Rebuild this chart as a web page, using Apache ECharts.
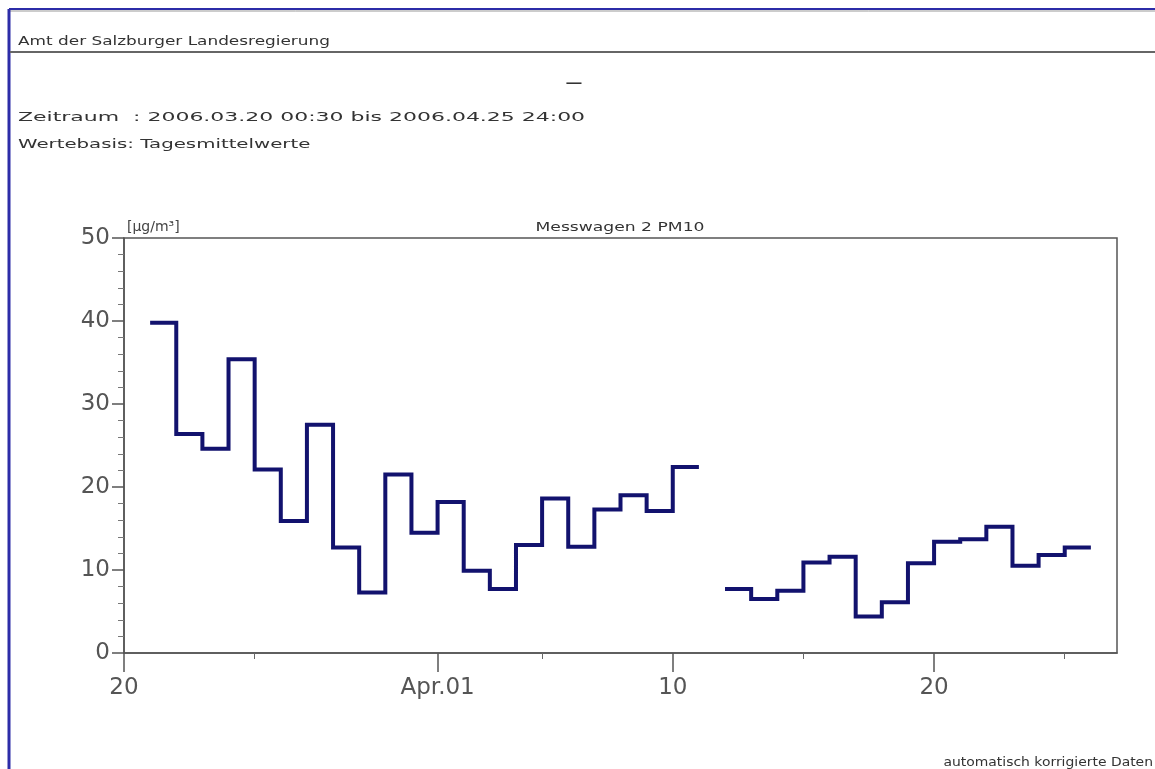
<!DOCTYPE html>
<html>
<head>
<meta charset="utf-8">
<title>Messwagen 2 PM10</title>
<script src="https://cdn.jsdelivr.net/npm/echarts@6/dist/echarts.min.js"></script>
<style>
html, body { margin: 0; padding: 0; background: #fff; }
#chart { width: 1155px; height: 769px; }
</style>
</head>
<body>
<div id="chart"></div>
<script>
// daily means (Tagesmittelwerte), one value per day, µg/m³ ; null = no data
const dates = [
  '2006-03-21', '2006-03-22', '2006-03-23', '2006-03-24', '2006-03-25', '2006-03-26',
  '2006-03-27', '2006-03-28', '2006-03-29', '2006-03-30', '2006-03-31', '2006-04-01',
  '2006-04-02', '2006-04-03', '2006-04-04', '2006-04-05', '2006-04-06', '2006-04-07',
  '2006-04-08', '2006-04-09', '2006-04-10', '2006-04-11', '2006-04-12', '2006-04-13',
  '2006-04-14', '2006-04-15', '2006-04-16', '2006-04-17', '2006-04-18', '2006-04-19',
  '2006-04-20', '2006-04-21', '2006-04-22', '2006-04-23', '2006-04-24', '2006-04-25'
]
const pm10 = [
  39.8, 26.4, 24.6, 35.4, 22.1, 15.9,
  27.5, 12.7, 7.3, 21.5, 14.5, 18.2,
  9.9, 7.7, 13.0, 18.6, 12.8, 17.3,
  19.0, 17.1, 22.4, null, 7.7, 6.5,
  7.5, 10.9, 11.6, 4.4, 6.1, 10.8,
  13.4, 13.7, 15.2, 10.5, 11.8, 12.7
]

// x axis in days since 2006-03-20 00:00
const axisStart = '2006-03-20'
const axisDays = 38
const majorTickDays = [0, 12, 21, 31]
const majorTickLabels = ['20', 'Apr.01', '10', '20']
const minorTickDays = [5, 16, 26, 36]

const yTicks = { min: 0, max: 50, interval: 10 }

const DAY = 24 * 3600 * 1000
function dayOffset(d) {
  return (Date.parse(d) - Date.parse(axisStart)) / DAY
}

// each daily mean is drawn as a flat step over its day
const stepData = []
dates.forEach((d, i) => {
  const x0 = dayOffset(d)
  stepData.push([x0, pm10[i]], [x0 + 1, pm10[i]])
})

const font = 'DejaVu Sans, Verdana, sans-serif'
const axisColor = '#555'

const chart = echarts.init(document.getElementById('chart'))

const option = {
  animation: false,
  backgroundColor: '#fff',
  grid: [
    { left: 124, top: 238, right: 38, bottom: 116, show: true, borderColor: axisColor, borderWidth: 1.5, backgroundColor: 'transparent', outerBoundsMode: 'none' },
    { left: 124, top: 238, right: 38, bottom: 116, show: false, outerBoundsMode: 'none' }
  ],
  xAxis: [
    {
      type: 'value',
      gridIndex: 0,
      min: 0,
      max: axisDays,
      axisLine: { lineStyle: { color: axisColor, width: 1.5 } },
      axisTick: { customValues: majorTickDays, length: 19, lineStyle: { color: axisColor, width: 1.5 } },
      axisLabel: {
        customValues: majorTickDays,
        formatter: v => majorTickLabels[majorTickDays.indexOf(v)],
        fontFamily: font,
        fontSize: 23,
        color: '#555',
        margin: 24
      },
      splitLine: { show: false }
    },
    {
      type: 'value',
      gridIndex: 1,
      min: 0,
      max: axisDays,
      axisLine: { show: false },
      axisTick: { customValues: minorTickDays, length: 6, lineStyle: { color: '#666' } },
      axisLabel: { show: false },
      splitLine: { show: false }
    }
  ],
  yAxis: [
    {
      type: 'value',
      gridIndex: 0,
      min: yTicks.min,
      max: yTicks.max,
      interval: yTicks.interval,
      name: '[µg/m³]',
      nameLocation: 'end',
      nameGap: 4,
      nameTextStyle: { align: 'left', verticalAlign: 'bottom', fontFamily: font, fontSize: 14, color: '#444', padding: [0, 0, 0, 3] },
      axisLine: { show: true, lineStyle: { color: axisColor, width: 1.5 } },
      axisTick: { show: true, length: 12, lineStyle: { color: axisColor, width: 1.5 } },
      minorTick: { show: true, splitNumber: 5, length: 6, lineStyle: { color: '#777' } },
      axisLabel: { fontFamily: font, fontSize: 23, color: '#555', margin: 14 },
      splitLine: { show: false }
    },
    { type: 'value', gridIndex: 1, min: yTicks.min, max: yTicks.max, show: false }
  ],
  graphic: [
    // page frame
    { type: 'line', shape: { x1: 9, y1: 9, x2: 1155, y2: 9 }, style: { stroke: '#2c2ca8', lineWidth: 2 } },
    { type: 'line', shape: { x1: 9, y1: 11, x2: 1155, y2: 11 }, style: { stroke: '#999', lineWidth: 1 } },
    { type: 'line', shape: { x1: 9, y1: 9, x2: 9, y2: 769 }, style: { stroke: '#2c2ca8', lineWidth: 3 } },
    { type: 'line', shape: { x1: 10, y1: 52, x2: 1155, y2: 52 }, style: { stroke: '#666', lineWidth: 2 } },
    // header texts (plotter font is wide, so stretch horizontally)
    { type: 'text', x: 18, y: 42, scaleX: 1.3, style: { text: 'Amt der Salzburger Landesregierung', fontFamily: font, fontSize: 13, fill: '#333', textVerticalAlign: 'middle' } },
    { type: 'text', x: 574, y: 84, scaleX: 1.3, style: { text: '—', fontFamily: font, fontSize: 13, fontWeight: 'bold', fill: '#333', textAlign: 'center', textVerticalAlign: 'middle' } },
    { type: 'text', x: 18, y: 118, scaleX: 1.69, style: { text: 'Zeitraum  : 2006.03.20 00:30 bis 2006.04.25 24:00', fontFamily: font, fontSize: 13, fill: '#333', textVerticalAlign: 'middle' } },
    { type: 'text', x: 18, y: 145, scaleX: 1.52, style: { text: 'Wertebasis: Tagesmittelwerte', fontFamily: font, fontSize: 13, fill: '#333', textVerticalAlign: 'middle' } },
    { type: 'text', x: 620, y: 228, scaleX: 1.43, style: { text: 'Messwagen 2 PM10', fontFamily: font, fontSize: 12, fill: '#333', textAlign: 'center', textVerticalAlign: 'middle' } },
    { type: 'text', x: 1153, y: 763, scaleX: 1.16, style: { text: 'automatisch korrigierte Daten', fontFamily: font, fontSize: 12, fill: '#333', textAlign: 'right', textVerticalAlign: 'middle' } }
  ],
  series: [
    {
      name: 'PM10',
      type: 'line',
      xAxisIndex: 0,
      yAxisIndex: 0,
      data: stepData,
      showSymbol: false,
      symbol: 'none',
      connectNulls: false,
      lineStyle: { color: '#12126e', width: 4, join: 'miter' }
    }
  ]
}

chart.setOption(option)
window.addEventListener('resize', () => chart.resize())
</script>
</body>
</html>
